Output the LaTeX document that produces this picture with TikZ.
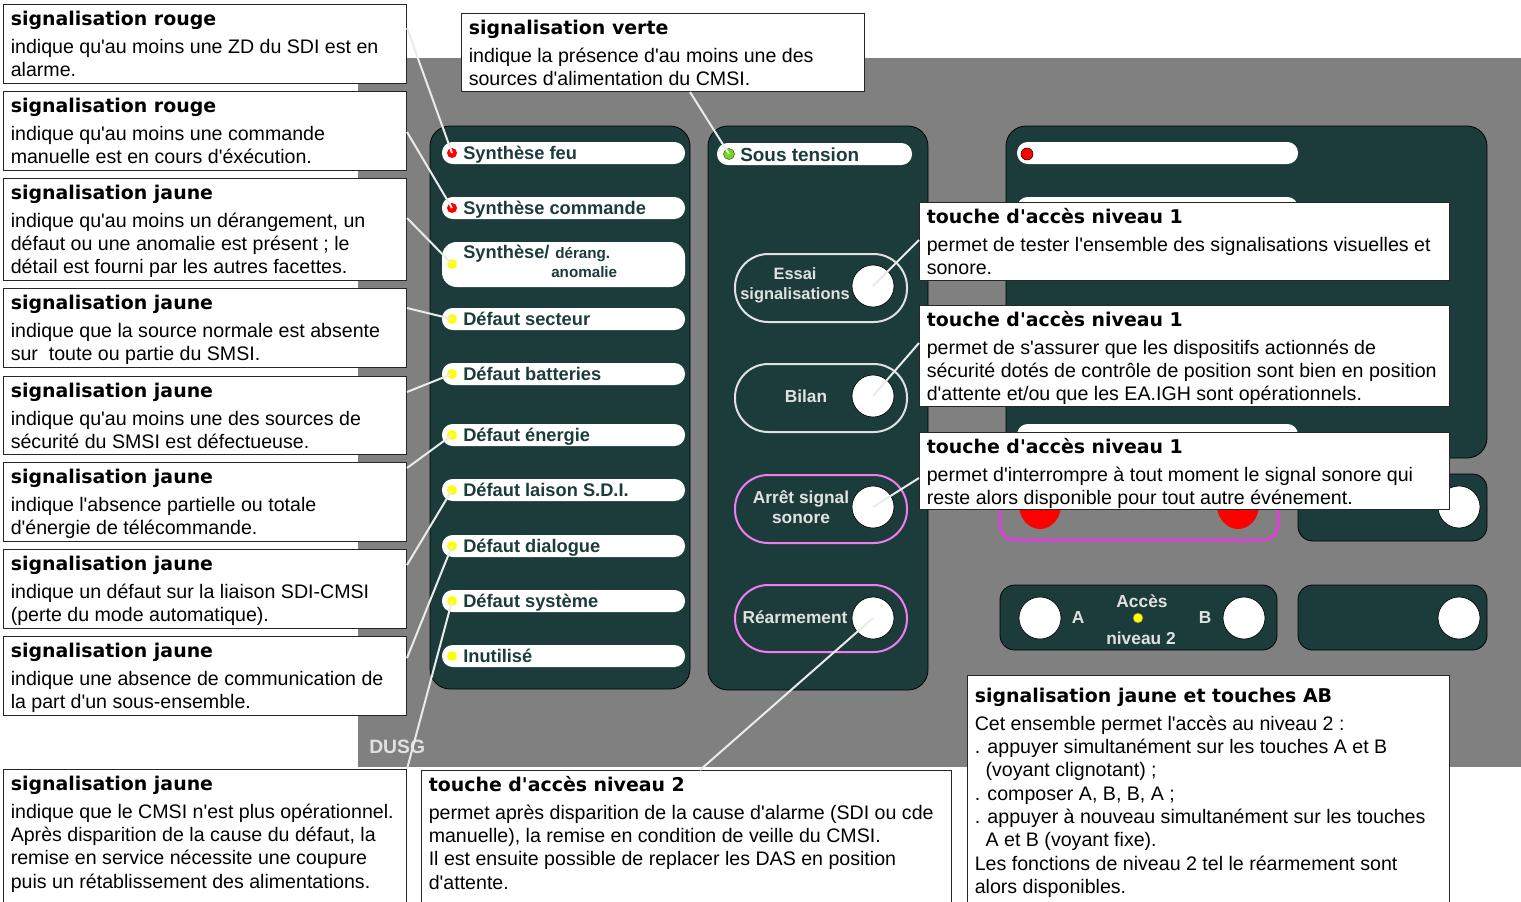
\documentclass[tikz,border=0pt]{standalone}
\usepackage{fontspec}
\setmainfont{Liberation Sans}
\newfontfamily\bodyfam{Liberation Sans}
\newfontfamily\headfam{DejaVu Sans}
\usetikzlibrary{calc}

\definecolor{panelteal}{RGB}{28,60,60}
\definecolor{bggray}{RGB}{128,128,128}
\definecolor{linkgray}{RGB}{235,235,235}
\definecolor{ledyellow}{RGB}{255,255,0}
\definecolor{ledgreen}{RGB}{110,220,20}
\definecolor{keypink}{RGB}{240,125,240}
\definecolor{framepink}{RGB}{255,40,255}
\definecolor{keytext}{RGB}{225,225,225}

\newcommand{\headfont}{\headfam\bfseries\fontsize{14.2pt}{17pt}\selectfont}
\newcommand{\bodyfont}{\bodyfam\fontsize{14.7pt}{17.5pt}\selectfont}
\newcommand{\boxlines}[2]{\begin{minipage}[t]{420pt}\raggedright{\headfont #1\par}\vspace{3.5pt}\bodyfont #2\end{minipage}}
% name, x, y, width, height (px), heading, body
\newcommand{\infobox}[7]{%
  \node[infobox, minimum width=#4*0.75pt, minimum height=#5*0.75pt] (#1) at (#2,#3) {};
  \node[boxtext] (#1-txt) at ($(#1.north west)+(7.5,21)$) {\boxlines{#6}{#7}};
}

\tikzset{
  panel/.style={draw=black, line width=0.6pt, fill=panelteal, rounded corners=15pt},
  smallpanel/.style={draw=black, line width=0.6pt, fill=panelteal, rounded corners=11pt},
  pill/.style={fill=white, rounded corners=8pt},
  led/.style={circle, inner sep=0pt, minimum size=7.5pt},
  pilltext/.style={anchor=base west, inner sep=0pt, text=panelteal, font=\bfseries\fontsize{13.7pt}{16pt}\selectfont},
  pillsmall/.style={pilltext, font=\bfseries\fontsize{11.4pt}{14pt}\selectfont},
  keyring/.style={draw=keytext, line width=1.5pt, rounded corners=25pt},
  keyringpink/.style={keyring, draw=keypink},
  button/.style={circle, draw=black, line width=0.5pt, fill=white, inner sep=0pt, minimum size=31.5pt},
  keylabel/.style={inner sep=0pt, text=keytext, align=center, font=\bfseries\fontsize{13pt}{15.5pt}\selectfont},
  infobox/.style={draw=black!85, line width=0.75pt, fill=white, inner sep=0pt, anchor=north west},
  boxtext/.style={anchor=base west, inner sep=0pt},
  link/.style={draw=linkgray, line width=1.5pt},
}

\begin{document}
\begin{tikzpicture}[x=0.75pt,y=0.75pt,yscale=-1]
\useasboundingbox (0,0) rectangle (1521,901);
\clip (0,0) rectangle (1521,901);
\fill[white] (0,0) rectangle (1521,901);
% front panel
\fill[bggray] (358,58) rectangle (1521,767);

% left facet: synthesis and fault lamps
\draw[panel] (430,126) rectangle (690,689);
\foreach \yc/\lab/\col/\nm in {153/Synthèse feu/red/feu, 208/Synthèse commande/red/cmd,
    319/Défaut secteur/ledyellow/sect, 374/Défaut batteries/ledyellow/batt,
    435/Défaut énergie/ledyellow/ener, 490/Défaut laison S.D.I./ledyellow/sdi,
    546/Défaut dialogue/ledyellow/dial, 601/Défaut système/ledyellow/sys,
    656/Inutilisé/ledyellow/inut}{
  \fill[pill] (442,\yc-11) rectangle (685,\yc+11);
  \node[led, fill=\col] (led-\nm) at (452,\yc) {};
  \node[pilltext] (lab-\nm) at (463,\yc+6) {\lab};
}
\fill[pill, rounded corners=11pt] (442,242) rectangle (685,287);
\node[led, fill=ledyellow] (led-der) at (452,264) {};
\node[pilltext] (lab-der) at (463,258) {Synthèse/};
\node[pillsmall] (lab-der2) at (555,258) {dérang.};
\node[pillsmall] (lab-der3) at (551,277) {anomalie};

% middle facet: power lamp and level 1 keys
\draw[panel] (708,126) rectangle (928,690);
\fill[pill] (717,143) rectangle (912,165);
\node[led, fill=ledgreen, draw=black!70, minimum size=8.25pt] (led-tension) at (729,154) {};
\node[pilltext, font=\bfseries\fontsize{14.2pt}{16pt}\selectfont] (lab-tension) at (740,161) {Sous tension};

\draw[keyring] (735,254) rectangle (907,322);
\node[button] (btn-essai) at (873,286) {};
\node[keylabel, font=\bfseries\fontsize{12.3pt}{15pt}\selectfont] (lab-essai) at (795,285) {Essai\\signalisations};
\draw[keyring] (735,364) rectangle (907,432);
\node[button] (btn-bilan) at (873,396) {};
\node[keylabel, anchor=base] (lab-bilan) at (806,402) {Bilan};
\draw[keyringpink] (735,475) rectangle (907,543);
\node[button] (btn-arret) at (873,507) {};
\node[keylabel] (lab-arret) at (801,507) {Arrêt signal\\sonore};
\draw[keyringpink] (735,585) rectangle (907,652);
\node[button] (btn-rearm) at (873,618) {};
\node[keylabel, anchor=base] (lab-rearm) at (795,623) {Réarmement};

% right facet
\draw[panel] (1006,126) rectangle (1487,458);
\fill[pill] (1017,142) rectangle (1298,164);
\node[led, fill=red, draw=black, minimum size=9pt] (led-alarm) at (1027,154) {};
\fill[pill] (1017,197) rectangle (1298,219);
\fill[pill] (1017,424) rectangle (1298,446);

\draw[framepink, line width=1.5pt, rounded corners=11pt] (1000,470) rectangle (1278,540);
\fill[red] (1040,505) ellipse [x radius=21, y radius=24];
\fill[red] (1238,505) ellipse [x radius=21, y radius=24];
\draw[smallpanel] (1298,474) rectangle (1487,541);
\node[button] (btn-r1) at (1459,507) {};

\draw[smallpanel] (1000,585) rectangle (1277,650);
\node[button] (btn-a) at (1040,618) {};
\node[button] (btn-b) at (1244,618) {};
\node[keylabel] (lab-a) at (1078,618) {A};
\node[keylabel] (lab-b) at (1205,618) {B};
\node[keylabel] (lab-acces) at (1142,601) {Accès};
\node[led, fill=ledyellow, draw=black!60, line width=0.3pt] (led-acces) at (1138,618) {};
\node[keylabel] (lab-niv) at (1141,638) {niveau 2};
\draw[smallpanel] (1298,585) rectangle (1487,650);
\node[button] (btn-r2) at (1459,618) {};

\node[keylabel, anchor=base west, font=\bfseries\fontsize{14.5pt}{16pt}\selectfont] (dusg) at (369,753) {DUSG};

% callouts
\infobox{b1}{3}{4}{403}{79}{signalisation rouge}{indique qu'au moins une ZD du SDI est en\\alarme.}
\infobox{b2}{3}{91}{403}{79}{signalisation rouge}{indique qu'au moins une commande\\manuelle est en cours d'éxécution.}
\infobox{b3}{3}{178}{403}{102}{signalisation jaune}{indique qu'au moins un dérangement, un\\défaut ou une anomalie est présent ; le\\détail est fourni par les autres facettes.}
\infobox{b4}{3}{288}{403}{79}{signalisation jaune}{indique que la source normale est absente\\sur\ \ toute ou partie du SMSI.}
\infobox{b5}{3}{376}{403}{78}{signalisation jaune}{indique qu'au moins une des sources de\\sécurité du SMSI est défectueuse.}
\infobox{b6}{3}{462}{403}{79}{signalisation jaune}{indique l'absence partielle ou totale\\d'énergie de télécommande.}
\infobox{b7}{3}{549}{403}{79}{signalisation jaune}{indique un défaut sur la liaison SDI-CMSI\\(perte du mode automatique).}
\infobox{b8}{3}{636}{403}{79}{signalisation jaune}{indique une absence de communication de\\la part d'un sous-ensemble.}
\infobox{b9}{3}{769}{403}{140}{signalisation jaune}{indique que le CMSI n'est plus opérationnel.\\Après disparition de la cause du défaut, la\\remise en service nécessite une coupure\\puis un rétablissement des alimentations.}
\infobox{verte}{461}{13}{403}{78}{signalisation verte}{indique la présence d'au moins une des\\sources d'alimentation du CMSI.}
\infobox{t1}{919}{202}{530}{78}{touche d'accès niveau 1}{permet de tester l'ensemble des signalisations visuelles et\\sonore.}
\infobox{t2}{919}{305}{530}{101}{touche d'accès niveau 1}{permet de s'assurer que les dispositifs actionnés de\\sécurité dotés de contrôle de position sont bien en position\\d'attente et/ou que les EA.IGH sont opérationnels.}
\infobox{t3}{919}{432}{530}{77}{touche d'accès niveau 1}{permet d'interrompre à tout moment le signal sonore qui\\reste alors disponible pour tout autre événement.}
\infobox{t4}{421}{770}{530}{140}{touche d'accès niveau 2}{permet après disparition de la cause d'alarme (SDI ou cde\\manuelle), la remise en condition de veille du CMSI.\\Il est ensuite possible de replacer les DAS en position\\d'attente.}
\node[infobox, minimum width=482*0.75pt, minimum height=240*0.75pt] (ab) at (967,675) {};
\node[boxtext] (ab-txt) at ($(ab.north west)+(7.5,27)$) {\boxlines{signalisation jaune et touches AB}{Cet ensemble permet l'accès au niveau 2 :\\. appuyer simultanément sur les touches A et B\\\ \ (voyant clignotant) ;\\. composer A, B, B, A ;\\. appuyer à nouveau simultanément sur les touches\\\ \ A et B (voyant fixe).\\Les fonctions de niveau 2 tel le réarmement sont\\alors disponibles.}};

% leader lines
\draw[link] ($(b1.north east)+(0,24)$) -- (led-feu.center);
\draw[link] ($(b2.north east)+(0,41)$) -- (led-cmd.center);
\draw[link] ($(b3.north east)+(0,40)$) -- (led-der.center);
\draw[link] ($(b4.north east)+(0,20)$) -- (led-sect.center);
\draw[link] ($(b5.north east)+(0,16)$) -- (led-batt.center);
\draw[link] ($(b6.north east)+(0,6)$) -- (led-ener.center);
\draw[link] ($(b7.north east)+(0,16)$) -- (led-sdi.center);
\draw[link] ($(b8.north east)+(0,22)$) -- (led-dial.center);
\draw[link] (b9.north east) -- (led-sys.center);
\draw[link] ($(verte.south west)+(229,0)$) -- (led-tension.center);
\draw[link] ($(t1.north west)+(0,38)$) -- (btn-essai.center);
\draw[link] ($(t2.north west)+(0,38)$) -- (btn-bilan.center);
\draw[link] ($(t3.north west)+(0,46)$) -- (btn-arret.center);
\draw[link] ($(t4.north west)+(279,0)$) -- (btn-rearm.center);
\end{tikzpicture}
\end{document}
